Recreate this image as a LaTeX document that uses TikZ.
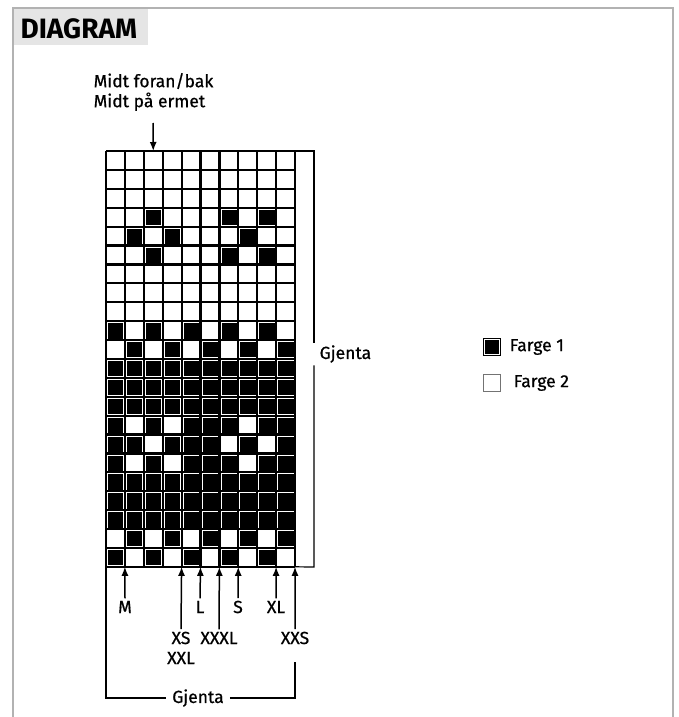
\documentclass[tikz,border=0pt]{standalone}
\usepackage{fontspec}
\setmainfont{Fira Sans}
\newfontfamily\medf{Fira Sans}[FakeBold=0.7]
\usetikzlibrary{positioning,arrows.meta}

\begin{document}
\begin{tikzpicture}[x=1pt, y=-1pt,
  lbl/.style={font=\medf\fontsize{17.5}{20}\selectfont, inner sep=2.5pt},
  up/.style={-{Latex[length=9pt,width=7pt]}, line width=1.5pt},
  brk/.style={line width=1.2pt},
  sq/.style={draw, line width=1.1pt, minimum size=17pt, inner sep=0pt}]
  \useasboundingbox (0,0) rectangle (678,717);
  % frame and title
  \fill[black!10] (13,8) rectangle (148,45);
  \draw[black!30, line width=2pt] (13,717) -- (13,8) -- (673,8) -- (673,717);
  \node[font=\fontsize{28}{30}\selectfont\bfseries, anchor=west] (title) at (17,29) {DIAGRAM};
  % chart
  \begin{scope}[shift={(106,151)}, x=18.9pt, y=-18.9pt]
    \foreach \r/\cols in {4/{3,7,9}, 5/{2,4,8}, 6/{3,7,9},
                          10/{1,3,5,7,9}, 11/{2,4,6,8,10},
                          12/{1,...,10}, 13/{1,...,10}, 14/{1,...,10},
                          15/{1,3,5,6,7,9,10}, 16/{1,2,4,5,6,8,10}, 17/{1,3,5,6,7,9,10},
                          18/{1,...,10}, 19/{1,...,10}, 20/{1,...,10},
                          21/{2,4,6,8,10}, 22/{1,3,5,7,9}}
      \foreach \c in \cols {
        \fill[black] (\c-1,\r-1) rectangle (\c,\r);
        \draw[white, line width=0.35pt] (\c-0.93,\r-0.93) rectangle (\c-0.07,\r-0.07);
      }
    \foreach \i in {0,...,10}
      \draw[line width=2.2pt] (\i,0) -- (\i,22);
    \foreach \j in {0,...,22}
      \draw[line width=2.2pt] (0,\j) -- (10,\j);
    \foreach \i in {0,...,10}
      \coordinate (b\i) at (\i,22);
    \coordinate (t3) at (2.5,0);
    \coordinate (tr) at (10,0);
  \end{scope}
  % top label
  \node[lbl, align=left, anchor=west] (mid) at (91,92) {Midt foran/bak\\Midt på ermet};
  \coordinate (a0) at (153,123);
  \draw[up] (a0) -- (t3);
  % right repeat
  \node[lbl, anchor=west] (gjr) at (317,354) {Gjenta};
  \coordinate (rt) at (314,151);
  \coordinate (rb) at (314,567);
  \draw[brk] (tr) -- (rt) -- (rt |- gjr.north);
  \draw[brk] (rt |- gjr.south) -- (rb) -- (b10);
  % size labels
  \node[lbl] (M)    at (125,607) {M};
  \node[lbl] (L)    at (200,607) {L};
  \node[lbl] (S)    at (238,607) {S};
  \node[lbl] (XL)   at (276,607) {XL};
  \node[lbl] (XS)   at (181,638) {XS};
  \node[lbl] (XXL)  at (181,658) {XXL};
  \node[lbl] (XXXL) at (219,638) {XXXL};
  \node[lbl] (XXS)  at (295,638) {XXS};
  \draw[up] (M.north) -- (b1);
  \draw[up] (XS.north) -- (b4);
  \draw[up] (L.north) -- (b5);
  \draw[up] (XXXL.north) -- (b6);
  \draw[up] (S.north) -- (b7);
  \draw[up] (XL.north) -- (b9);
  \draw[up] (XXS.north) -- (b10);
  % bottom repeat
  \node[lbl, inner sep=6pt] (gjb) at (198,698) {Gjenta};
  \coordinate (r0) at (295,662);
  \draw[brk] (b0) -- (b0 |- gjb) -- (gjb.west);
  \draw[brk] (gjb.east) -- (r0 |- gjb) -- (r0);
  % legend
  \node[sq, fill=black] (f1) at (492,347) {};
  \draw[white, line width=0.5pt] ([shift={(1.6pt,-1.6pt)}]f1.north west) rectangle ([shift={(-1.6pt,1.6pt)}]f1.south east);
  \node[lbl, right=6pt of f1] (f1t) {Farge 1};
  \node[sq, draw=black!55] (f2) at (492,383) {};
  \node[lbl, right=10pt of f2] (f2t) {Farge 2};
\end{tikzpicture}
\end{document}
